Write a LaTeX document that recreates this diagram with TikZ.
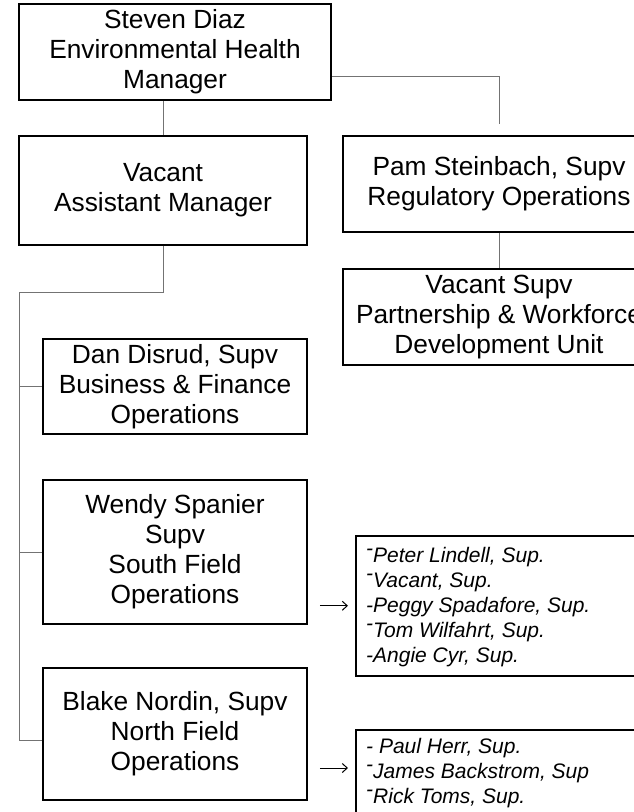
\documentclass[tikz,border=0pt]{standalone}
\usepackage{fontspec}
\setmainfont{Liberation Sans}
\usetikzlibrary{arrows.meta}
\newcommand{\rdash}{\raisebox{0.35em}{-}}
\begin{document}
\begin{tikzpicture}[x=1pt,y=-1pt,
  box/.style={draw=black,line width=1.5pt,rectangle,inner sep=0pt,align=center,
    font={\fontsize{26.3}{30}\selectfont}},
  listbox/.style={draw=black,line width=1.5pt,rectangle,inner sep=0pt,anchor=north west},
  listtext/.style={anchor=north west,inner sep=0pt,align=left,
    font={\fontsize{21}{25}\selectfont\itshape}},
  conn/.style={draw=black!55,line width=1pt},
  arr/.style={draw=black,line width=1pt,-{Straight Barb[length=5pt,width=9pt]}}]
\path[use as bounding box] (0,0) rectangle (634,812);
\clip (0,0) rectangle (634,812);

\node[box,minimum width=312pt,minimum height=96pt] (A) at (175,52)
  {Steven Diaz\\Environmental Health\\Manager};
\node[box,minimum width=288pt,minimum height=109pt] (B) at (163,190.5)
  {Vacant\\Assistant Manager};
\node[box,minimum width=312pt,minimum height=96pt] (C) at (499,184)
  {Pam Steinbach, Supv\\Regulatory Operations};
\node[box,minimum width=312pt,minimum height=96pt] (G) at (499,317)
  {Vacant Supv\\Partnership \& Workforce\\Development Unit};
\node[box,minimum width=264pt,minimum height=95pt] (E) at (175,386.5)
  {Dan Disrud, Supv\\Business \& Finance\\Operations};
\node[box,minimum width=264pt,minimum height=144pt] (D) at (175,552)
  {Wendy Spanier\\Supv\\South Field\\Operations};
\node[box,minimum width=264pt,minimum height=132pt] (F) at (175,734)
  {Blake Nordin, Supv\\North Field\\Operations};

\node[listbox,minimum width=300pt,minimum height=140pt] (L1) at (355,535) {};
\node[listtext] (T1) at (366,547)
  {\rdash Peter Lindell, Sup.\\\rdash Vacant, Sup.\\-Peggy Spadafore, Sup.\\\rdash Tom Wilfahrt, Sup.\\-Angie Cyr, Sup.};
\node[listbox,minimum width=300pt,minimum height=120pt] (L2) at (355,729) {};
\node[listtext] (T2) at (366,738.5)
  {- Paul Herr, Sup.\\\rdash James Backstrom, Sup\\\rdash Rick Toms, Sup.};

% connectors
\draw[conn] (A.south -| B.north) -- (B.north);
\coordinate (cEnd) at (499,124);
\draw[conn] ([yshift=-24pt]A.east) -| (cEnd);
\draw[conn] (C.south) -- (G.north);
\coordinate (t0) at (19,292);
\coordinate (Fb) at ([yshift=-6pt]F.west);
\draw[conn] (B.south) |- (t0) -- (t0 |- Fb) -- (Fb);
\draw[conn] (t0 |- E.west) -- (E.west);
\draw[conn] (t0 |- D.west) -- (D.west);

% arrows
\coordinate (a1) at ([xshift=-7pt]L1.west);
\path (D.east |- a1) coordinate (a1s);
\draw[arr] ([xshift=12pt]a1s) -- (a1);
\coordinate (a2) at ([shift={(-7pt,-39pt)}]L2.north west);
\path (F.east |- a2) coordinate (a2s);
\draw[arr] ([xshift=12pt]a2s) -- (a2);
\end{tikzpicture}
\end{document}
